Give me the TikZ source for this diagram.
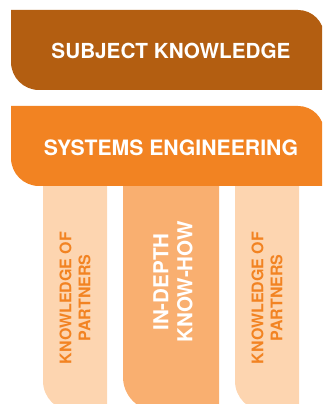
\documentclass[tikz,border=0pt]{standalone}
\usepackage{fontspec}
\setmainfont{TeX Gyre Heros}
\definecolor{brownc}{HTML}{B35E11}
\definecolor{orangec}{HTML}{F28322}
\definecolor{midc}{HTML}{F9AF70}
\definecolor{sidec}{HTML}{FDD5B0}
\begin{document}
\begin{tikzpicture}[x=1pt,y=1pt,
  bandtext/.style={text=white,font=\bfseries\fontsize{20.7}{24}\selectfont,inner sep=0pt},
  sidetext/.style={text=orangec,font=\bfseries\fontsize{16}{19}\selectfont,align=center,rotate=90,inner sep=0pt},
  midtext/.style={text=white,font=\bfseries\fontsize{20.6}{24}\selectfont,align=center,rotate=90,inner sep=0pt}]
\useasboundingbox (0,0) rectangle (322,404);
\clip (0,0) rectangle (322,404);
% columns
\fill[sidec] (43,225) -- (107,225) -- (107,-7) -- (73,-7) arc[start angle=270,end angle=180,radius=30] -- cycle;
\fill[midc] (123,225) -- (219,225) -- (219,-7) -- (157,-7) arc[start angle=270,end angle=180,radius=34] -- cycle;
\fill[sidec] (235,225) -- (299,225) -- (299,-7) -- (265,-7) arc[start angle=270,end angle=180,radius=30] -- cycle;
% bands
\fill[brownc] (11,394) -- (298,394) arc[start angle=90,end angle=0,radius=26] -- (324,314) -- (39,314) arc[start angle=270,end angle=180,radius=28] -- cycle;
\fill[orangec] (11,298) -- (298,298) arc[start angle=90,end angle=0,radius=26] -- (324,218) -- (39,218) arc[start angle=270,end angle=180,radius=28] -- cycle;
% texts
\node[bandtext] (subj) at (171,353) {SUBJECT KNOWLEDGE};
\node[bandtext,font=\bfseries\fontsize{21.2}{24}\selectfont] (sys) at (171,256) {SYSTEMS ENGINEERING};
\node[sidetext] (left) at (75,106) {KNOWLEDGE OF\\PARTNERS};
\node[midtext] (mid) at (173,122) {IN-DEPTH\\KNOW-HOW};
\node[sidetext] (right) at (267,106) {KNOWLEDGE OF\\PARTNERS};
\end{tikzpicture}
\end{document}
